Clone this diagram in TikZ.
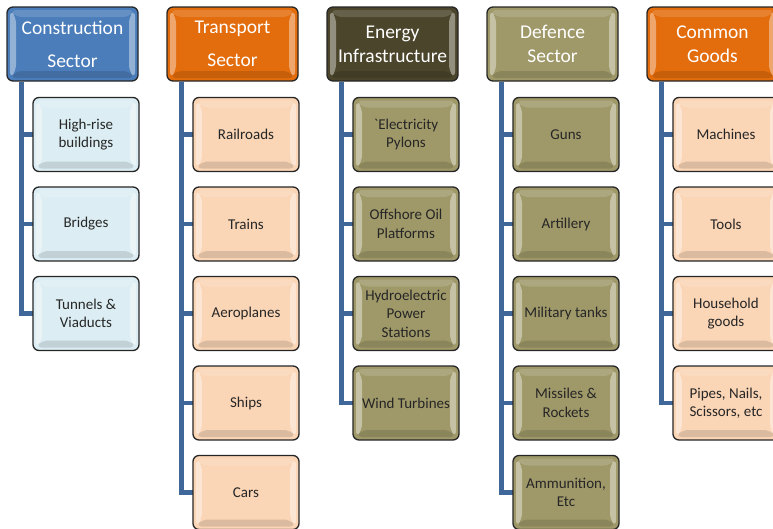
\documentclass[tikz,border=0pt]{standalone}
\usepackage{fontspec}
\setmainfont{Carlito}
\font\graveraw="Carlito" at 15pt
\definecolor{linkblue}{HTML}{40679A}
\definecolor{conhead}{HTML}{4A7DBA}
\definecolor{conchild}{HTML}{DCEEF3}
\definecolor{trahead}{HTML}{E36C0C}
\definecolor{trachild}{HTML}{FAD5B6}
\definecolor{enehead}{HTML}{4A452B}
\definecolor{khaki}{HTML}{9F9869}
\begin{document}
\begin{tikzpicture}[x=1pt,y=-1pt,
  bevel/.style={path picture={
    \fill[white,opacity=0.4] ([xshift=3pt,yshift=-3pt]path picture bounding box.north west) -- ([xshift=9pt,yshift=-10pt]path picture bounding box.north west) -- ([xshift=9pt,yshift=10pt]path picture bounding box.south west) -- ([xshift=3pt,yshift=3pt]path picture bounding box.south west) -- cycle;
    \fill[white,opacity=0.4] ([xshift=-3pt,yshift=-3pt]path picture bounding box.north east) -- ([xshift=-9pt,yshift=-10pt]path picture bounding box.north east) -- ([xshift=-9pt,yshift=10pt]path picture bounding box.south east) -- ([xshift=-3pt,yshift=3pt]path picture bounding box.south east) -- cycle;
    \fill[white,opacity=0.15] ([xshift=3pt,yshift=-3pt]path picture bounding box.north west) -- ([xshift=-3pt,yshift=-3pt]path picture bounding box.north east) -- ([xshift=-9pt,yshift=-10pt]path picture bounding box.north east) -- ([xshift=9pt,yshift=-10pt]path picture bounding box.north west) -- cycle;
    \fill[black,opacity=0.12] ([xshift=3pt,yshift=3pt]path picture bounding box.south west) -- ([xshift=-3pt,yshift=3pt]path picture bounding box.south east) -- ([xshift=-9pt,yshift=10pt]path picture bounding box.south east) -- ([xshift=9pt,yshift=10pt]path picture bounding box.south west) -- cycle;
  }},
  box/.style={draw=black!85, line width=1.3pt, rounded corners=6pt, align=center, inner sep=0pt, bevel},
  head/.style={box, minimum width=131pt, minimum height=74pt, text=white, font=\fontsize{19.5}{24}\selectfont},
  child/.style={box, minimum width=106pt, minimum height=74pt, text=black!85, font=\fontsize{15}{18.5}\selectfont},
  link/.style={draw=linkblue, line width=4.5pt}
]
\useasboundingbox (0,0) rectangle (773,528);

% headers
\node[head, fill=conhead] (h0) at (72.5,44) {Construction\\[9pt]Sector};
\node[head, fill=trahead] (h1) at (232.5,44) {Transport\\[9pt]Sector};
\node[head, fill=enehead] (h2) at (392.5,44) {Energy\\Infrastructure};
\node[head, fill=khaki] (h3) at (552.5,44) {Defence\\Sector};
\node[head, fill=trahead] (h4) at (712.5,44) {Common\\Goods};

% children coordinates
\foreach \k/\yy in {1/134.5,2/224,3/313.5,4/403,5/492.5} {
  \foreach \c/\xx in {0/86,1/246,2/406,3/566,4/726} {
    \coordinate (p\c-\k) at (\xx,\yy);
  }
}

% connectors
\foreach \k in {1,2,3} { \draw[link] ([xshift=15pt]h0.south west) |- (p0-\k); }
\foreach \k in {1,2,3,4,5} { \draw[link] ([xshift=15pt]h1.south west) |- (p1-\k); }
\foreach \k in {1,2,3,4} { \draw[link] ([xshift=15pt]h2.south west) |- (p2-\k); }
\foreach \k in {1,2,3,4,5} { \draw[link] ([xshift=15pt]h3.south west) |- (p3-\k); }
\foreach \k in {1,2,3,4} { \draw[link] ([xshift=15pt]h4.south west) |- (p4-\k); }

% construction
\node[child, fill=conchild] (c0-1) at (p0-1) {High-rise\\buildings};
\node[child, fill=conchild] (c0-2) at (p0-2) {Bridges};
\node[child, fill=conchild] (c0-3) at (p0-3) {Tunnels \&\\Viaducts};
% transport
\node[child, fill=trachild] (c1-1) at (p1-1) {Railroads};
\node[child, fill=trachild] (c1-2) at (p1-2) {Trains};
\node[child, fill=trachild] (c1-3) at (p1-3) {Aeroplanes};
\node[child, fill=trachild] (c1-4) at (p1-4) {Ships};
\node[child, fill=trachild] (c1-5) at (p1-5) {Cars};
% energy
\node[child, fill=khaki] (c2-1) at (p2-1) {{\graveraw\char96}Electricity\\Pylons};
\node[child, fill=khaki] (c2-2) at (p2-2) {Offshore Oil\\Platforms};
\node[child, fill=khaki] (c2-3) at (p2-3) {Hydroelectric\\Power\\Stations};
\node[child, fill=khaki] (c2-4) at (p2-4) {Wind Turbines};
% defence
\node[child, fill=khaki] (c3-1) at (p3-1) {Guns};
\node[child, fill=khaki] (c3-2) at (p3-2) {Artillery};
\node[child, fill=khaki] (c3-3) at (p3-3) {Military tanks};
\node[child, fill=khaki] (c3-4) at (p3-4) {Missiles \&\\Rockets};
\node[child, fill=khaki] (c3-5) at (p3-5) {Ammunition,\\Etc};
% common goods
\node[child, fill=trachild] (c4-1) at (p4-1) {Machines};
\node[child, fill=trachild] (c4-2) at (p4-2) {Tools};
\node[child, fill=trachild] (c4-3) at (p4-3) {Household\\goods};
\node[child, fill=trachild] (c4-4) at (p4-4) {Pipes, Nails,\\Scissors, etc};
\end{tikzpicture}
\end{document}
